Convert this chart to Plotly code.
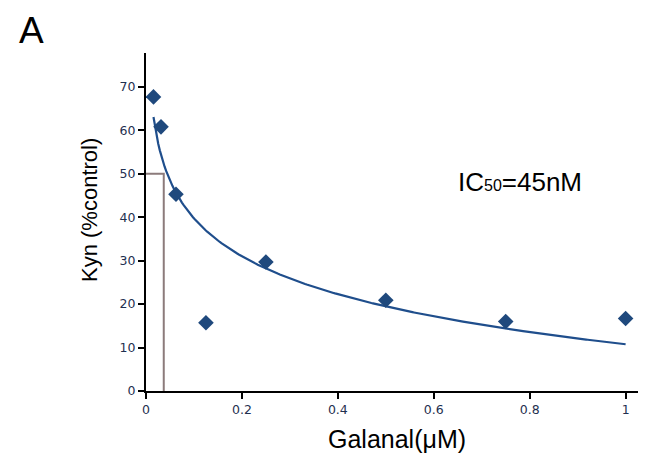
import numpy as np
import plotly.graph_objects as go

# Data
conc_uM = [0.015625, 0.03125, 0.0625, 0.125, 0.25, 0.5, 0.75, 1.0]
kyn_pct = [67.7, 60.8, 45.3, 15.7, 29.7, 20.9, 16.0, 16.7]
ic50_x = 0.037     # position of the drop line as drawn
ic50_y = 50
x_ticks = [0, 0.2, 0.4, 0.6, 0.8, 1]
x_tick_text = ["0", "0.2", "0.4", "0.6", "0.8", "1"]
y_ticks = [0, 10, 20, 30, 40, 50, 60, 70]

# Logarithmic trendline (least-squares fit on ln x, as Excel does)
b, a = np.polyfit(np.log(conc_uM), kyn_pct, 1)
xf = np.linspace(min(conc_uM), max(conc_uM), 300)
yf = a + b * np.log(xf)

W, H = 638, 449
L, R, T, B = 138, 6, 45, 66
pw, ph = W - L - R, H - T - B

def px(xp):   # figure pixel x -> paper x
    return (xp - L) / pw

def py(yp):   # figure pixel y -> paper y
    return (T + ph - yp) / ph

fig = go.Figure()
fig.add_trace(go.Scatter(x=[0, ic50_x, ic50_x], y=[ic50_y, ic50_y, 0], mode="lines",
                         line=dict(color="#8C7B7B", width=2), hoverinfo="skip",
                         showlegend=False))
fig.add_trace(go.Scatter(x=xf, y=yf, mode="lines",
                         line=dict(color="#1F4E8C", width=2.2), showlegend=False))
fig.add_trace(go.Scatter(x=conc_uM, y=kyn_pct, mode="markers",
                         marker=dict(symbol="diamond", size=12, color="#1F497D"),
                         showlegend=False))

tickfont = dict(family="DejaVu Sans", size=12.5, color="#1F3050")
fig.update_layout(
    width=W, height=H,
    margin=dict(l=L, r=R, t=T, b=B),
    paper_bgcolor="white", plot_bgcolor="white",
    xaxis=dict(range=[0, 1.03], tickvals=x_ticks, ticktext=x_tick_text,
               showgrid=False, zeroline=False, showline=True, linecolor="black", linewidth=2,
               ticks="outside", ticklen=6, tickwidth=2, tickcolor="black", tickfont=tickfont),
    yaxis=dict(range=[0, 77.8], tickvals=y_ticks,
               showgrid=False, zeroline=False, showline=True, linecolor="black", linewidth=2,
               ticks="outside", ticklen=6, tickwidth=2, tickcolor="black", tickfont=tickfont),
    annotations=[
        dict(text="A", x=px(23), y=py(0), xref="paper", yref="paper", showarrow=False,
             xanchor="center", yanchor="top",
             font=dict(family="Liberation Sans", size=37, color="black")),
        dict(text="Kyn (%control)", x=px(81), y=py(202), xref="paper", yref="paper",
             showarrow=False, textangle=-90, xanchor="center", yanchor="middle",
             font=dict(family="Liberation Sans", size=22, color="black")),
        dict(text="Galanal(μM)", x=px(389), y=py(431), xref="paper", yref="paper",
             showarrow=False, xanchor="center", yanchor="middle",
             font=dict(family="Liberation Sans", size=25, color="black")),
        dict(text="IC<span style='font-size:16px'>50</span>=45nM", x=0.779, y=48.0,
             xref="x", yref="y", showarrow=False, xanchor="center", yanchor="middle",
             font=dict(family="Liberation Sans", size=26, color="black")),
    ],
)

fig.write_html("out.html")
